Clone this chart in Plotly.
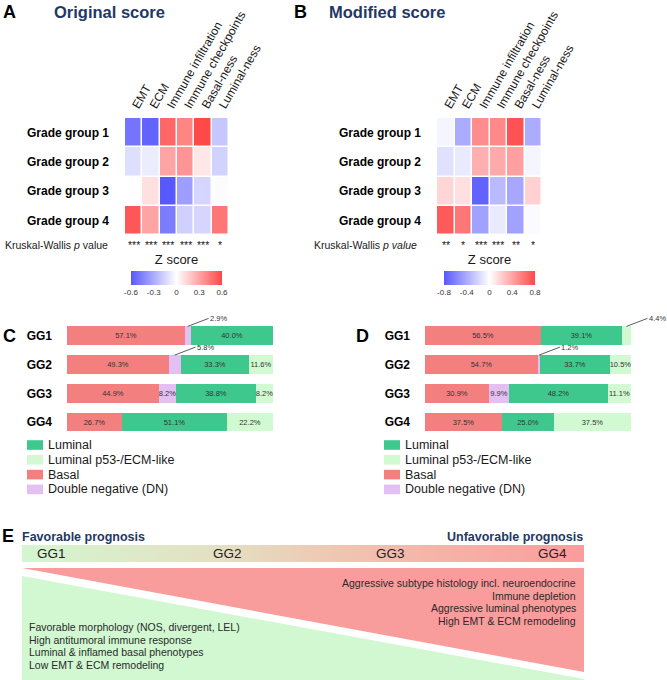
import plotly.graph_objects as go

W, H = 667, 680
FONT = "Liberation Sans, Arial, Helvetica, sans-serif"
NAVY = "#1f3864"
TXT = "#1a1a1a"

# ---------------- data ----------------
features = ["EMT", "ECM", "Immune infiltration", "Immune checkpoints", "Basal-ness", "Luminal-ness"]
grade_groups = ["Grade group 1", "Grade group 2", "Grade group 3", "Grade group 4"]

z_original = [
    [-0.50, -0.56, 0.50, 0.40, 0.60, -0.20],
    [-0.12, -0.07, 0.30, 0.35, 0.08, -0.16],
    [0.00, 0.10, -0.62, -0.35, -0.15, -0.01],
    [0.55, 0.30, -0.47, -0.17, -0.15, 0.45],
]
z_modified = [
    [-0.05, -0.40, 0.50, 0.52, 0.75, -0.40],
    [-0.15, -0.10, 0.35, 0.37, 0.42, -0.05],
    [0.18, 0.14, -0.75, -0.33, -0.42, 0.20],
    [0.72, 0.60, -0.45, -0.10, -0.45, -0.02],
]
kw_original = ["***", "***", "***", "***", "***", "*"]
kw_modified = ["**", "*", "***", "***", "**", "*"]
zticks_original = [-0.6, -0.3, 0, 0.3, 0.6]
zticks_modified = [-0.8, -0.4, 0, 0.4, 0.8]

gg_labels = ["GG1", "GG2", "GG3", "GG4"]
subtype_names = ["Basal", "Double negative (DN)", "Luminal", "Luminal p53-/ECM-like"]
legend_order = ["Luminal", "Luminal p53-/ECM-like", "Basal", "Double negative (DN)"]

orig_basal = [57.1, 49.3, 44.9, 26.7]
orig_dn = [2.9, 5.8, 8.2, 0.0]
orig_luminal = [40.0, 33.3, 38.8, 51.1]
orig_p53 = [0.0, 11.6, 8.2, 22.2]

mod_basal = [56.5, 54.7, 30.9, 37.5]
mod_dn = [0.0, 1.2, 9.9, 0.0]
mod_luminal = [39.1, 33.7, 48.2, 25.0]
mod_p53 = [4.4, 10.5, 11.1, 37.5]

prognosis_groups = ["GG1", "GG2", "GG3", "GG4"]
unfavorable_traits = [
    "Aggressive subtype histology incl. neuroendocrine",
    "Immune depletion",
    "Aggressive luminal phenotypes",
    "High EMT & ECM remodeling",
]
favorable_traits = [
    "Favorable morphology (NOS, divergent, LEL)",
    "High antitumoral immune response",
    "Luminal & inflamed basal phenotypes",
    "Low EMT & ECM remodeling",
]

# ---------------- styles ----------------
subtype_colors = {
    "Basal": "#f47f7f",
    "Double negative (DN)": "#e3bff3",
    "Luminal": "#3fc88e",
    "Luminal p53-/ECM-like": "#d2fad2",
}
heat_cs = [[0, "rgb(88,88,255)"], [0.5, "rgb(255,255,255)"], [1, "rgb(255,72,72)"]]


def px_x(x):
    return x / W


def px_y(y):
    return 1 - y / H


fig = go.Figure()
annotations = []
shapes = []


def zbar(cx, ticks):
    return dict(
        orientation="h", thickness=14, thicknessmode="pixels", len=91, lenmode="pixels",
        x=px_x(cx), xanchor="center", y=px_y(256), yanchor="top",
        title=dict(text="Z score", side="top", font=dict(size=13, color=TXT)),
        tickvals=ticks, ticktext=[f"{t:g}" for t in ticks], ticks="",
        tickfont=dict(size=8, color="#333"), outlinewidth=0, xpad=0, ypad=0,
    )


# ---------------- heatmaps A, B ----------------
heat_specs = [
    (z_original, "x", "y", 0.6, zticks_original, 176.5),
    (z_modified, "x2", "y2", 0.8, zticks_modified, 489.5),
]
for z, xa, ya, zm, ticks, cx in heat_specs:
    fig.add_trace(go.Heatmap(
        z=z, x=features, y=grade_groups, xaxis=xa, yaxis=ya,
        colorscale=heat_cs, zmin=-zm, zmax=zm, xgap=1.5, ygap=1.5,
        colorbar=zbar(cx, ticks), hoverinfo="skip",
    ))

# stars + Kruskal-Wallis labels
for stars, xa, kx, ktext in [
    (kw_original, "x", 110, "Kruskal-Wallis <i>p</i> value"),
    (kw_modified, "x2", 419, "Kruskal-Wallis <i>p value</i>"),
]:
    for f, s in zip(features, stars):
        annotations.append(dict(x=f, xref=xa, y=px_y(245), yref="paper", text=s,
                                showarrow=False, font=dict(size=10.5, color=TXT), yanchor="middle"))
    annotations.append(dict(x=px_x(kx), xref="paper", y=px_y(245), yref="paper", text=ktext,
                            showarrow=False, xanchor="right", yanchor="middle",
                            font=dict(size=10.5, color=TXT)))

# panel titles
for letter, lx, title, tx in [("A", 1, "Original score", 52), ("B", 292, "Modified score", 327)]:
    annotations.append(dict(x=px_x(lx), y=px_y(12), xref="paper", yref="paper", text=f"<b>{letter}</b>",
                            showarrow=False, xanchor="left", yanchor="middle", font=dict(size=18, color="#000")))
    annotations.append(dict(x=px_x(tx), y=px_y(12), xref="paper", yref="paper", text=f"<b>{title}</b>",
                            showarrow=False, xanchor="left", yanchor="middle", font=dict(size=16.5, color=NAVY)))

# ---------------- stacked bars C, D ----------------
BAR_W = 0.66
LEAD_DX, LEAD_DY = 21, 8  # leader-line offset in pixels for small segments
bar_specs = [
    ({"Basal": orig_basal, "Double negative (DN)": orig_dn, "Luminal": orig_luminal,
      "Luminal p53-/ECM-like": orig_p53}, "x3", "y3"),
    ({"Basal": mod_basal, "Double negative (DN)": mod_dn, "Luminal": mod_luminal,
      "Luminal p53-/ECM-like": mod_p53}, "x4", "y4"),
]
for data, xa, ya in bar_specs:
    cum = [0.0] * len(gg_labels)
    for name in subtype_names:
        vals = data[name]
        fig.add_trace(go.Bar(
            x=vals, y=gg_labels, orientation="h", xaxis=xa, yaxis=ya, name=name,
            marker=dict(color=subtype_colors[name], line=dict(width=0)), width=BAR_W,
            text=[f"{v:.1f}%" if v >= 6 else "" for v in vals], textposition="inside",
            insidetextanchor="middle", textangle=0, constraintext="none",
            textfont=dict(size=7.5, color="#333", family=FONT), showlegend=False, hoverinfo="skip",
        ))
        for i, v in enumerate(vals):
            if 0 < v < 6:
                xm, ytop = cum[i] + v / 2, i - BAR_W / 2
                shapes.append(dict(
                    type="line", xref=xa, yref=ya, xsizemode="pixel", ysizemode="pixel",
                    xanchor=xm, yanchor=ytop, x0=0, x1=LEAD_DX, y0=0, y1=LEAD_DY,
                    line=dict(color="#333", width=0.8),
                ))
                annotations.append(dict(
                    x=xm, y=ytop, xref=xa, yref=ya, text=f"{v:.1f}%", showarrow=False,
                    xshift=LEAD_DX + 0.5, yshift=LEAD_DY, xanchor="left", yanchor="middle",
                    borderpad=0, font=dict(size=7.5, color="#333"),
                ))
            cum[i] += v

# legends for C and D (drawn manually for compact spacing)
for sx in (27, 384):
    for k, name in enumerate(legend_order):
        cy = 445 + 14.8 * k
        shapes.append(dict(type="rect", xref="paper", yref="paper", x0=px_x(sx), x1=px_x(sx + 16),
                           y0=px_y(cy + 4.8), y1=px_y(cy - 4.8), fillcolor=subtype_colors[name],
                           line=dict(width=0)))
        annotations.append(dict(x=px_x(sx + 19), y=px_y(cy), xref="paper", yref="paper", text=name,
                                showarrow=False, xanchor="left", yanchor="middle",
                                font=dict(size=12.5, color=TXT)))

for letter, lx in [("C", 1), ("D", 354)]:
    annotations.append(dict(x=px_x(lx), y=px_y(336), xref="paper", yref="paper", text=f"<b>{letter}</b>",
                            showarrow=False, xanchor="left", yanchor="middle", font=dict(size=18, color="#000")))

# ---------------- panel E ----------------
BX0, BX1, BY0, BY1 = 22, 584, 545, 562
grad_cs = [[0, "rgb(212,246,208)"], [0.35, "rgb(228,224,194)"], [0.65, "rgb(243,188,172)"],
           [1, "rgb(250,156,156)"]]
fig.add_trace(go.Scatter(
    x=[BX0, BX1, BX1, BX0, BX0], y=[BY0, BY0, BY1, BY1, BY0], xaxis="x5", yaxis="y5",
    mode="lines", line=dict(width=0), fill="toself",
    fillgradient=dict(type="horizontal", colorscale=grad_cs), hoverinfo="skip", showlegend=False,
))
fig.add_trace(go.Scatter(
    x=[BX0, BX1, BX1, BX0], y=[568, 568, 672, 568], xaxis="x5", yaxis="y5",
    mode="lines", line=dict(width=0), fill="toself", fillcolor="#f99c9c",
    hoverinfo="skip", showlegend=False,
))
fig.add_trace(go.Scatter(
    x=[BX0, BX1, BX1, BX0, BX0], y=[576, 679, 681, 681, 576], xaxis="x5", yaxis="y5",
    mode="lines", line=dict(width=0), fill="toself", fillcolor="#d2f8d2",
    hoverinfo="skip", showlegend=False,
))

gg_pos = [51, 227, 390, 552]
for g, gx in zip(prognosis_groups, gg_pos):
    annotations.append(dict(x=gx, y=553.5, xref="x5", yref="y5", text=g, showarrow=False,
                            font=dict(size=13.5, color="#222")))
annotations.append(dict(x=0, y=536, xref="x5", yref="y5", text="<b>E</b>", showarrow=False,
                        xanchor="left", yanchor="middle", font=dict(size=18, color="#000")))
annotations.append(dict(x=20, y=537, xref="x5", yref="y5", text="<b>Favorable prognosis</b>",
                        showarrow=False, xanchor="left", font=dict(size=12.5, color=NAVY)))
annotations.append(dict(x=585, y=537, xref="x5", yref="y5", text="<b>Unfavorable prognosis</b>",
                        showarrow=False, xanchor="right", font=dict(size=12.5, color=NAVY)))
for k, t in enumerate(unfavorable_traits):
    annotations.append(dict(x=578, y=583 + 12.7 * k, xref="x5", yref="y5", text=t, showarrow=False,
                            xanchor="right", font=dict(size=10.5, color="#2a2a2a")))
for k, t in enumerate(favorable_traits):
    annotations.append(dict(x=27, y=627 + 12.5 * k, xref="x5", yref="y5", text=t, showarrow=False,
                            xanchor="left", font=dict(size=10.5, color="#2a2a2a")))

# ---------------- layout ----------------
# bar panels: 206 px of bar length, with extra room on the right/top so leader lines are not clipped
BAR_PX, EXT_PX = 206, 36
ROW_PX = 28.75
common = dict(automargin=False, fixedrange=True, showgrid=False, zeroline=False, showline=False)
hx = dict(side="top", tickangle=-60, tickfont=dict(size=12, color=TXT), ticks="",
          ticklabelstandoff=2, **common)
hy = dict(autorange="reversed", tickfont=dict(size=12, color="#000", weight="bold"), ticks="",
          ticklabelstandoff=15, **common)
bx = dict(range=[0, 100 * (BAR_PX + EXT_PX) / BAR_PX], visible=False, **common)
by = dict(range=[3.5, -1.0], tickfont=dict(size=12, color="#000", weight="bold"), ticks="",
          ticklabelstandoff=14, **common)
ex = dict(domain=[0, 1], visible=False, **common)
bar_y_dom = [px_y(436.5), px_y(436.5 - 4.5 * ROW_PX)]

fig.update_layout(
    width=W, height=H, autosize=False, margin=dict(l=0, r=0, t=0, b=0, autoexpand=False),
    paper_bgcolor="white", plot_bgcolor="rgba(0,0,0,0)",
    font=dict(family=FONT, color=TXT), barmode="stack", bargap=0,
    xaxis=dict(domain=[px_x(125), px_x(229)], anchor="y", **hx),
    yaxis=dict(domain=[px_y(235), px_y(118)], anchor="x", **hy),
    xaxis2=dict(domain=[px_x(437), px_x(542)], anchor="y2", **hx),
    yaxis2=dict(domain=[px_y(235), px_y(118)], anchor="x2", **hy),
    xaxis3=dict(domain=[px_x(67), px_x(67 + BAR_PX + EXT_PX)], anchor="y3", **bx),
    yaxis3=dict(domain=bar_y_dom, anchor="x3", **by),
    xaxis4=dict(domain=[px_x(425), min(1.0, px_x(425 + BAR_PX + EXT_PX))], anchor="y4", **bx),
    yaxis4=dict(domain=bar_y_dom, anchor="x4", **by),
    xaxis5=dict(range=[0, W], anchor="y5", **ex),
    yaxis5=dict(range=[H, 0], anchor="x5", **ex),
    annotations=annotations, shapes=shapes, showlegend=False,
)

fig.write_html(
    "out.html",
    config={"responsive": False, "displayModeBar": False},
    post_script="document.body.style.margin='0';document.body.style.overflow='hidden';",
)
